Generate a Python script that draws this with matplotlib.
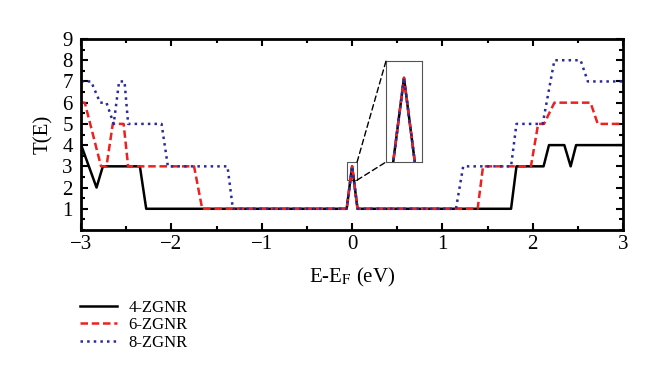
#!/usr/bin/env python
""" plot.py: transmission spectra T(E) of n-ZGNR, with zoomed peak inset """

import numpy as np
import matplotlib
matplotlib.use('Agg')
import matplotlib.pyplot as plt
from matplotlib.patches import Rectangle, ConnectionPatch
from matplotlib.ticker import MultipleLocator

plt.rcParams['font.family'] = ['Liberation Serif', 'DejaVu Serif']
plt.rcParams['mathtext.fontset'] = 'stix'

## Data (E - E_F in eV, T(E))
e_4 = [-3.0, -2.83, -2.76, -2.35, -2.28, -0.06, 0.0, 0.06, 1.76, 1.82,
       2.12, 2.18, 2.35, 2.42, 2.48, 3.0]
t_4 = [4, 2, 3, 3, 1, 1, 3, 1, 1, 3, 3, 4, 4, 3, 4, 4]

e_6 = [-3.0, -2.96, -2.78, -2.72, -2.65, -2.53, -2.48, -1.75, -1.66,
       -0.06, 0.0, 0.06, 1.39, 1.45, 1.98, 2.06, 2.125, 2.24, 2.64, 2.72, 3.0]
t_6 = [6, 6, 3, 3, 5, 5, 3, 3, 1, 1, 3, 1, 1, 3, 3, 5, 5, 6, 6, 5, 5]

e_8 = [-3.0, -2.89, -2.79, -2.72, -2.64, -2.58, -2.52, -2.48, -2.11, -2.04,
       -1.38, -1.32, -0.06, 0.0, 0.06, 1.15, 1.23, 1.76, 1.82, 2.11, 2.24,
       2.53, 2.61, 3.0]
t_8 = [7, 7, 6, 6, 5, 7, 7, 5, 5, 3, 3, 1, 1, 3, 1, 1, 3, 3, 5, 5, 8, 8, 7, 7]

labels = ['4-ZGNR', '6-ZGNR', '8-ZGNR']
xticks = [-3, -2, -1, 0, 1, 2, 3]
xticklabels = ['\u22123', '\u22122', '\u22121', '0', '1', '2', '3']

## Zoom windows
box_x = [-0.055, 0.055]
box_y = [2.35, 3.2]
ins_x = [-0.0325, 0.0325]
ins_y = [2.35, 3.13]


def draw(ax, lw=1.8):
    """ Plot the three spectra on ax """
    l1, = ax.plot(e_4, t_4, '-', color='black', lw=lw)
    l2, = ax.plot(e_6, t_6, '--', color='#ee2020', lw=lw, dashes=(3, 1.5))
    l3, = ax.plot(e_8, t_8, ':', color='#2a2a9a', lw=lw)
    return [l1, l2, l3]


fig = plt.figure(figsize=(6.6, 3.68), dpi=100)
ax = fig.add_axes([0.123, 0.375, 0.821, 0.519])
lines = draw(ax)

ax.set_xlim(-3, 3)
ax.set_ylim(0, 9)
ax.set_xticks(xticks)
ax.set_xticklabels(xticklabels)
ax.xaxis.set_minor_locator(MultipleLocator(0.5))
ax.set_yticks(range(1, 10))
ax.yaxis.set_minor_locator(MultipleLocator(0.5))
ax.tick_params(which='both', direction='in', top=True, right=True,
               labelsize=15, width=1.5)
ax.tick_params(which='major', length=5)
ax.tick_params(which='minor', length=3)
ax.tick_params(axis='y', pad=6)
for s in ax.spines.values():
    s.set_linewidth(2)

ax.set_xlabel(r'E-E$_\mathrm{F}$ (eV)', fontsize=15, labelpad=9)
ax.set_ylabel('T(E)', fontsize=15, labelpad=7)

## Small box around the peak
ax.add_patch(Rectangle((box_x[0], box_y[0]), box_x[1] - box_x[0],
                       box_y[1] - box_y[0], fill=False, ec='#555555', lw=0.8))

## Inset with zoomed peak
x0 = (386 / 660)
w = (422 - 386) / 660
y0 = 1 - 162 / 368
h = (162 - 61) / 368
axin = fig.add_axes([x0, y0, w, h])
draw(axin, lw=1.8)
axin.set_xlim(ins_x)
axin.set_ylim(ins_y)
axin.set_xticks([])
axin.set_yticks([])
for s in axin.spines.values():
    s.set_linewidth(0.8)
    s.set_edgecolor('#555555')

## Dashed connectors
for xyA, xyB in [((box_x[1], box_y[1]), (0, 1)), ((box_x[1], box_y[0]), (0, 0))]:
    con = ConnectionPatch(xyA=xyA, coordsA=ax.transData, xyB=xyB,
                          coordsB=axin.transAxes, color='black',
                          lw=1.0, linestyle=(0, (4, 2.5)))
    fig.add_artist(con)

## Legend below the plot
fig.legend(lines, labels, loc='upper left', bbox_to_anchor=(0.111, 0.204),
           frameon=False, fontsize=12, handlelength=2.2, labelspacing=0.1,
           handletextpad=0.7, borderaxespad=0)

fig.savefig('out.png', dpi=100)
